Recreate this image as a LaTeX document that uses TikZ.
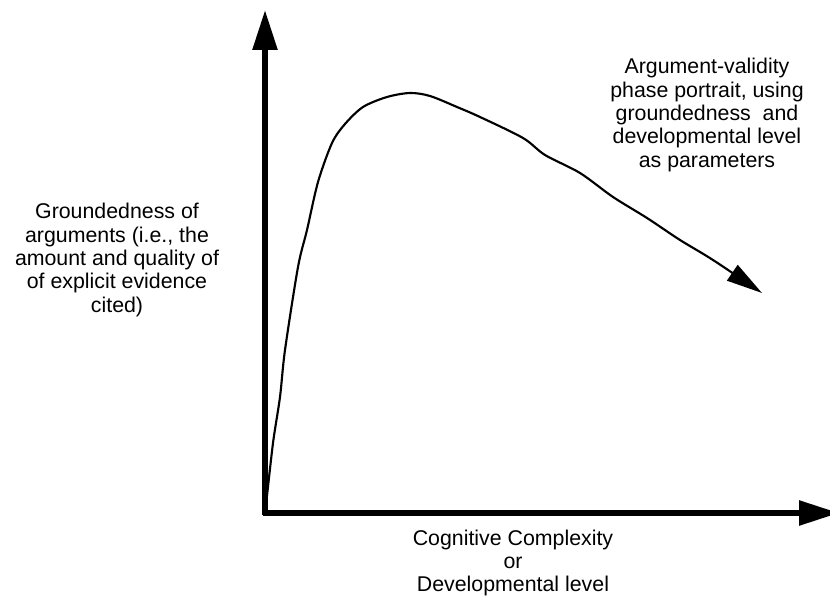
\documentclass[tikz,border=0pt]{standalone}
\usepackage{fontspec}
\setmainfont{Liberation Sans}
\usetikzlibrary{arrows.meta}
\begin{document}
\begin{tikzpicture}[x=0.75pt,y=-0.75pt,
        axis/.style={line width=4.2pt,-{Triangle[length=30pt,width=18pt]}},
        curve/.style={line width=1.6pt,-{Triangle[length=27pt,width=14pt]}},
        lbl/.style={align=center,font=\fontsize{16}{17.6}\selectfont}]
            \useasboundingbox (0,0) rectangle (830,598);
            \coordinate (O) at (265,513);
            \coordinate (ytop) at (265,10);
            \coordinate (xend) at (839,513);
            \coordinate (tip) at (762,293);
            \draw [axis] (265,515.1) -- (ytop);
            \draw [axis] (262.9,513) -- (xend);
            \draw [curve] plot [smooth,tension=0.5] coordinates {
                (266,505) (273,443) (280,397) (285,350) (298,267) (307,230)
                (318,182) (332,143) (345,124) (363,107) (387,97) (410,93)
                (430,96) (457,107) (480,117) (523,138) (545,155) (580,173)
                (613,197) (647,218) (680,240) (713,260) (tip)
            };
            \node [lbl] (groundlbl) at (117,260)
                {Groundedness of\\arguments (i.e., the\\amount and quality of\\of explicit evidence\\cited)};
            \node [lbl] (complexlbl) at (513,563)
                {Cognitive Complexity\\or\\Developmental level};
            \node [lbl] (portraitlbl) at (707,115)
                {Argument-validity\\phase portrait, using\\groundedness \ and\\developmental level\\as parameters};
        \end{tikzpicture}
\end{document}
